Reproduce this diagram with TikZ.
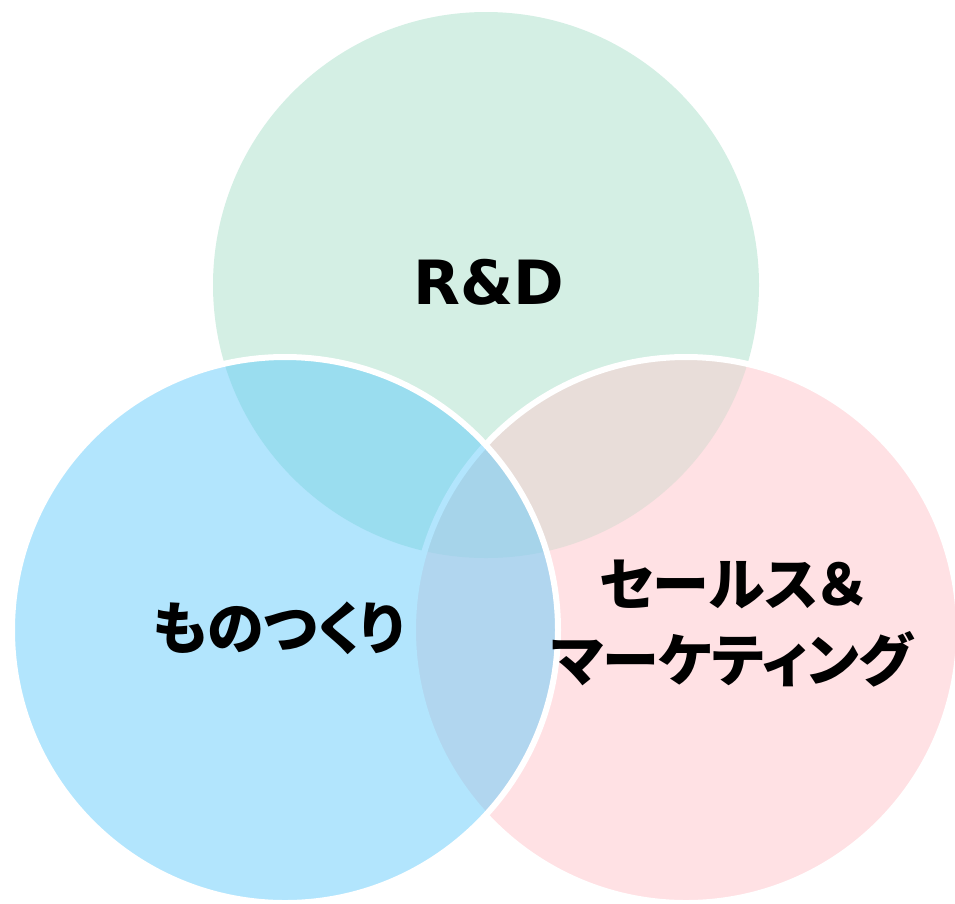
\documentclass[tikz,border=0pt]{standalone}
\usepackage{fontspec}
\newfontfamily\jp{Noto Sans CJK JP}[RawFeature=+palt]
\newfontfamily\lat{DejaVu Sans}
\definecolor{cT}{HTML}{D4EFE4}
\definecolor{cR}{HTML}{FFE1E4}
\definecolor{cL}{HTML}{B2E5FD}
\definecolor{cTR}{HTML}{E8DDD9}
\definecolor{cTL}{HTML}{9ADDEF}
\definecolor{cLR}{HTML}{B1D6EF}
\definecolor{cTLR}{HTML}{A6D4EA}
\tikzset{lbl/.style={font=\jp\bfseries\fontsize{57}{76}\selectfont, text=black, align=center, inner sep=0pt}}
\begin{document}
\begin{tikzpicture}[x=1pt,y=-1pt]
\useasboundingbox (0,0) rectangle (955,903);
\coordinate (T) at (486,285);
\coordinate (L) at (285,630);
\coordinate (R) at (686,630);
\fill[cT] (T) circle[radius=273pt];
\fill[cR] (R) circle[radius=273pt];
\begin{scope}
  \clip (R) circle[radius=273pt];
  \fill[cTR] (T) circle[radius=273pt];
\end{scope}
\draw[white, line width=6pt] (R) circle[radius=273pt];
\fill[cL] (L) circle[radius=273pt];
\begin{scope}
  \clip (L) circle[radius=273pt];
  \fill[cTL] (T) circle[radius=273pt];
  \fill[cLR] (R) circle[radius=273pt];
  \begin{scope}
    \clip (R) circle[radius=273pt];
    \fill[cTLR] (T) circle[radius=273pt];
  \end{scope}
  \draw[cL, line width=6pt] (R) circle[radius=273pt];
\end{scope}
\draw[white, line width=6pt] (L) circle[radius=273pt];
\node[lbl, font=\lat\bfseries\fontsize{61}{76}\selectfont] (rd) at (489,282) {R\&D};
\node[lbl] (mono) at (279,628) {ものつくり};
\node[lbl] (sales) at (732,624) {セールス＆\\マーケティング};
\end{tikzpicture}
\end{document}
